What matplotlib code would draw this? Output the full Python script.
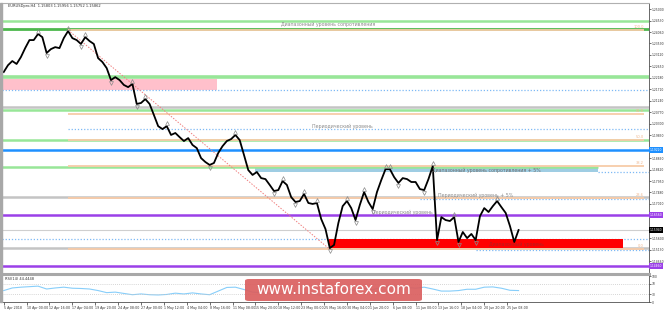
import numpy as np
import matplotlib.pyplot as plt
from matplotlib.patches import Rectangle, FancyBboxPatch
from matplotlib.lines import Line2D

# Закрытия баров EURUSD (шаг 12 часов), 5 Apr - 27 Jun 2018
close = [1.2242, 1.2270, 1.2287, 1.2275, 1.2303, 1.2340, 1.2373, 1.2373, 1.2398, 1.2385,
         1.2320, 1.2336, 1.2344, 1.2340, 1.2381, 1.2410, 1.2381, 1.2373, 1.2357, 1.2385,
         1.2369, 1.2357, 1.2299, 1.2283, 1.2258, 1.2209, 1.2221, 1.2209, 1.2189, 1.2180,
         1.2193, 1.2111, 1.2115, 1.2131, 1.2111, 1.2066, 1.2020, 1.2008, 1.2020, 1.1984,
         1.1992, 1.1975, 1.1959, 1.1971, 1.1943, 1.1930, 1.1889, 1.1873, 1.1861, 1.1869,
         1.1910, 1.1938, 1.1959, 1.1967, 1.1984, 1.1963, 1.1902, 1.1840, 1.1820, 1.1832,
         1.1807, 1.1803, 1.1779, 1.1754, 1.1758, 1.1795, 1.1779, 1.1729, 1.1709, 1.1713,
         1.1742, 1.1705, 1.1701, 1.1705, 1.1639, 1.1598, 1.1520, 1.1533, 1.1623, 1.1692,
         1.1713, 1.1684, 1.1635, 1.1697, 1.1750, 1.1709, 1.1680, 1.1750, 1.1799, 1.1844,
         1.1844, 1.1811, 1.1787, 1.1807, 1.1803, 1.1791, 1.1791, 1.1762, 1.1758, 1.1803,
         1.1856, 1.1553, 1.1647, 1.1635, 1.1631, 1.1647, 1.1545, 1.1586, 1.1561, 1.1578,
         1.1553, 1.1651, 1.1684, 1.1668, 1.1692, 1.1713, 1.1688, 1.1664, 1.1610, 1.1545,
         1.1594]

# RSI(14), одно значение на каждые 2 бара
rsi = [44, 54, 57, 59, 61, 50, 54, 57, 53, 52,
       50, 44, 36, 38, 33, 28, 31, 28, 27, 29,
       34, 31, 35, 31, 28, 42, 56, 57, 48, 38,
       36, 33, 30, 36, 30, 34, 31, 26, 22, 40,
       50, 42, 52, 47, 57, 62, 55, 56, 53, 57,
       50, 42, 42, 44, 49, 49, 57, 58, 53, 45,
       44]

time_labels = ["5 Apr 2018", "10 Apr 00:00", "12 Apr 16:00", "17 Apr 04:00", "19 Apr 20:00",
               "24 Apr 08:00", "27 Apr 00:00", "1 May 12:00", "4 May 04:00", "8 May 16:00",
               "11 May 08:00", "15 May 20:00", "18 May 12:00", "23 May 00:00", "25 May 16:00",
               "30 May 04:00", "1 Jun 20:00", "6 Jun 08:00", "11 Jun 00:00", "13 Jun 16:00",
               "18 Jun 04:00", "20 Jun 20:00", "25 Jun 08:00"]

# Уровни
fib_high = 1.2414
fib_low = 1.1515
fib_ratios = [1.0, 0.618, 0.5, 0.382, 0.236, 0.0]
fib_names = ["100.0", "61.8", "50.0", "38.2", "23.6", "0.0"]

green_light = [1.2451, 1.2221, 1.2086, 1.1963]
resist_top = 1.2418
pink_zone = (1.2168, 1.2213, 49.6)          # низ, верх, конец (бар)
blue_resist5 = (1.1832, 1.1853, 58.5, 138.5)  # низ, верх, начало, конец
red_zone = (1.1520, 1.1557, 144.3)
gray_levels = [1.2098, 1.1729, 1.1520]
blue_level = 1.1922
purple_levels = [1.1656, 1.1446]
dotted_levels = [(1.2168, -0.4), (1.2008, 15), (1.1832, 138.5), (1.1721, 97),
                 (1.1557, -0.4), (1.1512, 110)]

W, H = 665, 310
XR = 150.4
FS = 2.2


def box(x0, y0, x1, y1):
    return [x0 / W, 1 - y1 / H, (x1 - x0) / W, (y1 - y0) / H]


fig = plt.figure(figsize=(6.65, 3.10), dpi=100)
ax = fig.add_axes(box(2, 3, 649, 272))
rx = fig.add_axes(box(2, 276, 649, 302))

n = len(close)
bars = np.arange(n)
i_hi = int(np.argmax(close))
i_lo = int(np.argmin(close))
fib_end = 149.2

ax.set_xlim(-0.4, XR)
ax.set_ylim(1.1422, 1.2525)

# зоны
ax.add_patch(Rectangle((-0.4, pink_zone[0]), pink_zone[2] + 0.4, pink_zone[1] - pink_zone[0],
                       color="#FFC0CB", lw=0, zorder=1))
ax.add_patch(Rectangle((blue_resist5[2], blue_resist5[0]), blue_resist5[3] - blue_resist5[2],
                       blue_resist5[1] - blue_resist5[0], color="#9FCDE3", lw=0, zorder=1))
ax.add_patch(Rectangle((i_lo - 0.2, red_zone[0]), red_zone[2] - i_lo + 0.2,
                       red_zone[1] - red_zone[0], color="#FF0000", lw=0, zorder=3))

# горизонтальные линии
for lv in gray_levels:
    ax.axhline(lv, color="#C4C4C4", lw=1.8, zorder=1)
ax.axhline(close[-1], color="#CFCFCF", lw=0.8, zorder=1)
for k, lv in enumerate(green_light):
    ax.axhline(lv, color="#98E698", lw=2.6 if k == 1 else 1.8, zorder=1.5)
ax.hlines(blue_resist5[1], -0.4, blue_resist5[3], color="#98E698", lw=1.8, zorder=1.5)
ax.axhline(resist_top, color="#4CB84C", lw=2.0, zorder=1.5)
ax.axhline(blue_level, color="#1E90FF", lw=1.8, zorder=2)
for lv in purple_levels:
    ax.axhline(lv, color="#9B40E8", lw=1.8, zorder=2)
for lv, x0 in dotted_levels:
    ax.hlines(lv, x0, XR, color="#7DB9F5", lw=0.9, linestyles=(0, (1, 1.5)), zorder=2)

# Фибоначчи
for r, name in zip(fib_ratios, fib_names):
    lv = fib_low + r * (fib_high - fib_low)
    ax.hlines(lv, i_hi, fib_end, color="#F7CBA8", lw=1.3, zorder=2.2)
    ax.text(fib_end, lv + 0.0004, name, fontsize=2.6, color="#F0B890", ha="right", va="bottom")
ax.plot([i_hi, i_lo], [fib_high, fib_low], color="#F08080", lw=0.7, ls=(0, (1.5, 1.5)), zorder=2.3)

# цена
ax.plot(bars, close, color="black", lw=1.3, zorder=4)

# фракталы
for i in range(2, n - 2):
    win = close[i - 2:i + 3]
    if close[i] == max(win):
        ax.plot(i, close[i] + 0.0011, marker="^", ms=2.8, mfc="none", mec="#8A8A8A", mew=0.5, zorder=4)
    if close[i] == min(win):
        ax.plot(i, close[i] - 0.0011, marker="v", ms=2.8, mfc="none", mec="#8A8A8A", mew=0.5, zorder=4)

# надписи уровней
tcol = "#8C8C8C"
ax.text(75.5, 1.2439, "Диапазонный уровень сопротивления", fontsize=3.4, color=tcol, ha="center", va="center")
ax.text(79, 1.2018, "Периодический уровень", fontsize=3.4, color=tcol, ha="center", va="center")
ax.text(99.8, 1.1840, "Диапазонный уровень сопротивления + 5%", fontsize=3.4, color="#707070",
        ha="left", va="center", zorder=5)
ax.text(101.2, 1.1738, "Периодический уровень + 5%", fontsize=3.4, color=tcol, ha="left", va="center")
ax.text(85.8, 1.1668, "Периодический уровень", fontsize=3.4, color=tcol, ha="left", va="center")
ax.text(119.6, 1.1537, "Диапазонный уровень", fontsize=3.4, color="#B02020", ha="center",
        va="center", zorder=5)
ax.text(0.01, 0.997, "EURUSDpro,H4  1.15803 1.15956 1.15752 1.15862", transform=ax.transAxes,
        fontsize=2.6, color="#303030", ha="left", va="top")

# правая шкала
marked = [blue_level, purple_levels[0], close[-1], purple_levels[1]]
ticks = [t for t in np.arange(1.2500, 1.1420, -0.0047)
         if min(abs(t - m) for m in marked) > 0.0017]
ax.yaxis.tick_right()
ax.set_yticks(ticks)
ax.yaxis.set_major_formatter(plt.FormatStrFormatter("%.5f"))
ax.tick_params(axis="y", labelsize=FS, length=1.5, width=0.5, pad=0.5, colors="#333333")
ax.set_xticks([])
for s in ["left", "bottom"]:
    ax.spines[s].set_visible(False)
ax.spines["top"].set_color("#B0B0B0")
ax.spines["right"].set_color("#505050")
ax.spines["right"].set_linewidth(0.6)

ytr = ax.get_yaxis_transform()
for lv, c in zip(marked, ["#1E90FF", "#9B40E8", "black", "#9B40E8"]):
    ax.text(1.001, lv, "%.5f" % lv, transform=ytr, fontsize=FS, color="white", ha="left",
            va="center", clip_on=False, zorder=10,
            bbox=dict(boxstyle="square,pad=0.3", fc=c, ec="none"))

# RSI
rx.set_xlim(-0.4, XR)
rx.set_ylim(0, 100)
rx.plot(bars[::2], rsi, color="#87CEFA", lw=0.8)
rx.axhline(70, color="#C8C8C8", lw=0.6, ls=(0, (1, 1.5)))
rx.axhline(30, color="#C8C8C8", lw=0.6, ls=(0, (1, 1.5)))
rx.text(0.005, 0.97, "RSI(14) 44.4448", transform=rx.transAxes, fontsize=2.6, color="#303030",
        ha="left", va="top")
rx.yaxis.tick_right()
rx.set_yticks([0, 30, 70, 100])
rx.tick_params(axis="y", labelsize=FS, length=1.5, width=0.5, pad=0.5, colors="#333333")
rx.set_xticks(np.arange(len(time_labels)) * 16 / 3)
rx.set_xticklabels(time_labels)
rx.tick_params(axis="x", labelsize=2.3, length=2, width=0.5, pad=0.8, colors="#333333")
for lab in rx.get_xticklabels():
    lab.set_ha("left")
for s in ["left", "top"]:
    rx.spines[s].set_visible(False)
rx.spines["right"].set_color("#505050")
rx.spines["right"].set_linewidth(0.6)
rx.spines["bottom"].set_color("#505050")
rx.spines["bottom"].set_linewidth(0.6)

# рамки окна
fig.add_artist(Line2D([0, 649 / W], [1 - 273.5 / H] * 2, color="#A8A8A8", lw=2.2))
fig.add_artist(Rectangle((0, 1 - 302 / H), 2 / W, 299 / H, color="#A8A8A8",
                         transform=fig.transFigure))

# водяной знак
fig.add_artist(FancyBboxPatch((245 / W, 1 - 301 / H), 177 / W, 22 / H,
                              boxstyle="round,pad=0,rounding_size=0.006", fc="#DB5F5F", ec="none",
                              alpha=0.92, transform=fig.transFigure, zorder=20))
fig.text(333.5 / W, 1 - 290 / H, "www.instaforex.com", fontsize=11, color="white",
         ha="center", va="center", zorder=21)

fig.savefig("out.png", dpi=100)
